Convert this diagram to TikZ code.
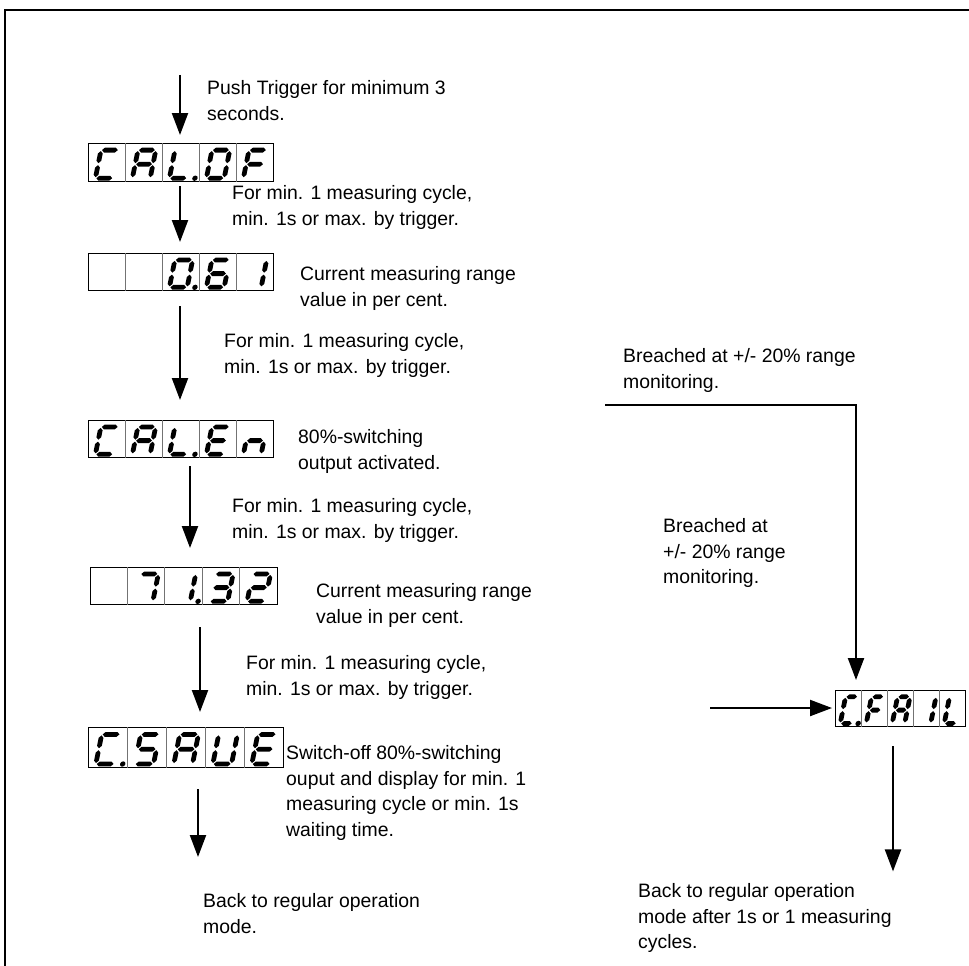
\documentclass[tikz,border=0pt]{standalone}
\usepackage{fontspec}
\setmainfont{Liberation Sans}
\usetikzlibrary{arrows.meta,calc}

% glyph metrics (set per display): \lcdW width, \lcdH height,
% \lcdT half stroke, \lcdG gap between segments, \lcdP offset of the point
\def\lcdT{2.4}
\def\lcdG{1.0}

% tapered horizontal segment at height #1
\newcommand\lcdhseg[1]{%
  \fill (\lcdG,#1) -- ({\lcdG+\lcdT},{#1+\lcdT}) -- ({\lcdW-\lcdG-\lcdT},{#1+\lcdT})
    -- ({\lcdW-\lcdG},#1) -- ({\lcdW-\lcdG-\lcdT},{#1-\lcdT}) -- ({\lcdG+\lcdT},{#1-\lcdT}) -- cycle;}
% tapered vertical segment at x=#1 from #2 up to #3
\newcommand\lcdvseg[3]{%
  \fill (#1,#2) -- ({#1+\lcdT},{#2+\lcdT}) -- ({#1+\lcdT},{#3-\lcdT})
    -- (#1,#3) -- ({#1-\lcdT},{#3-\lcdT}) -- ({#1-\lcdT},{#2+\lcdT}) -- cycle;}

% the seven segments and the decimal point
\newcommand\lcdsega{\lcdhseg{\lcdH}}
\newcommand\lcdsegg{\lcdhseg{0.5*\lcdH}}
\newcommand\lcdsegd{\lcdhseg{0}}
\newcommand\lcdsegb{\lcdvseg{\lcdW}{0.5*\lcdH+\lcdG}{\lcdH-\lcdG}}
\newcommand\lcdsegc{\lcdvseg{\lcdW}{\lcdG}{0.5*\lcdH-\lcdG}}
\newcommand\lcdsege{\lcdvseg{0}{\lcdG}{0.5*\lcdH-\lcdG}}
\newcommand\lcdsegf{\lcdvseg{0}{0.5*\lcdH+\lcdG}{\lcdH-\lcdG}}
\newcommand\lcdsegp{\fill ({\lcdW+\lcdP},0) circle (2.7);}
\newcommand\lcdsegz{}

\tikzset{
  lcdbox/.style={draw, line width=1.4pt, inner sep=0pt, anchor=north west},
  cellsep/.style={line width=0.8pt, black!55},
  arr/.style={line width=2.2pt, -{Triangle[width=16pt,length=22pt]}},
  note/.style={anchor=north west, align=left, inner sep=0pt,
               font=\fontsize{19.4}{25.5}\selectfont},
}

% #1 name, #2/#3 top-left corner, #4 cell width, #5 cell height, #6 five cells
\newcommand\lcd[6]{%
  \node[lcdbox, minimum width=5*#4pt, minimum height=#5pt] (#1) at (#2,#3) {};
  \pgfmathsetmacro\lcdW{0.48*#4}%
  \pgfmathsetmacro\lcdH{0.74*#5}%
  \pgfmathsetmacro\lcdP{0.21*#4}%
  \foreach \k in {1,...,4}
    \draw[cellsep] ($(#1.north west)+(\k*#4,0)$) -- ($(#1.south west)+(\k*#4,0)$);
  \foreach \cellsegs [count=\k from 0] in {#6} {
    \begin{scope}[shift={($(#1.south west)+(\k*#4+0.2*#4,-0.11*#5)$)},
                  yscale=-1, xslant=-0.2]
      \foreach \s in \cellsegs {\csname lcdseg\s\endcsname}
    \end{scope}}%
}

\begin{document}
\begin{tikzpicture}[x=1pt,y=-1pt]
\useasboundingbox (0,0) rectangle (969,966);

% outer frame
\draw[line width=2.4pt] (5,966) -- (5,10) -- (969,10);

% displays
\lcd{d1}{88}{143}{37}{38}{{a,d,e,f},{a,b,c,e,f,g},{d,e,f,p},{a,b,c,d,e,f},{a,e,f,g}}
\lcd{d2}{88}{253}{37}{37}{{z},{z},{a,b,c,d,e,f,p},{a,c,d,e,f,g},{b,c}}
\lcd{d3}{88}{420}{37}{37}{{a,d,e,f},{a,b,c,e,f,g},{d,e,f,p},{a,d,e,f,g},{c,e,g}}
\lcd{d4}{90}{567}{37.4}{37}{{z},{a,b,c},{b,c,p},{a,b,c,d,g},{a,b,g,e,d}}
\lcd{d5}{88}{727}{39}{40}{{a,d,e,f,p},{a,f,g,c,d},{a,b,c,e,f,g},{b,c,d,e,f},{a,d,e,f,g}}
\lcd{d6}{835}{690}{26}{36}{{a,d,e,f,p},{a,e,f,g},{a,b,c,e,f,g},{b,c},{d,e,f}}

% texts
\node[note] (t1) at (207,80.5) {Push Trigger for minimum 3\\seconds.};
\node[note] (t2) at (232,185.5) {For min. 1 measuring cycle,\\min. 1s or max. by trigger.};
\node[note] (t3) at (300,266.5) {Current measuring range\\value in per cent.};
\node[note] (t4) at (224,333.5) {For min. 1 measuring cycle,\\min. 1s or max. by trigger.};
\node[note] (t5) at (298,429.5) {80\%-switching\\output activated.};
\node[note] (t6) at (232,498.5) {For min. 1 measuring cycle,\\min. 1s or max. by trigger.};
\node[note] (t7) at (316,583.5) {Current measuring range\\value in per cent.};
\node[note] (t8) at (246,655.5) {For min. 1 measuring cycle,\\min. 1s or max. by trigger.};
\node[note] (t9) at (286,745.5) {Switch-off 80\%-switching\\ouput and display for min. 1\\measuring cycle or min. 1s\\waiting time.};
\node[note] (t10) at (203,893.5) {Back to regular operation\\mode.};
\node[note] (t11) at (623,348.5) {Breached at +/- 20\% range\\monitoring.};
\node[note] (t12) at (663,518.5) {Breached at\\+/- 20\% range\\monitoring.};
\node[note] (t13) at (638,883.5) {Back to regular operation\\mode after 1s or 1 measuring\\cycles.};

% arrows of the main sequence
\coordinate (s1) at (180,75);
\coordinate (s2) at (180,186);
\coordinate (s3) at (180,306);
\coordinate (s4) at (190,466);
\coordinate (s5) at (200,627);
\coordinate (s6) at (198,789);
\coordinate (e6) at (198,857);
\draw[arr, shorten >=8pt]  (s1) -- (s1 |- d1.north);
\draw[arr, shorten >=11pt] (s2) -- (s2 |- d2.north);
\draw[arr, shorten >=20pt] (s3) -- (s3 |- d3.north);
\draw[arr, shorten >=19pt] (s4) -- (s4 |- d4.north);
\draw[arr, shorten >=15pt] (s5) -- (s5 |- d5.north);
\draw[arr] (s6) -- (e6);

% failure branch
\coordinate (r0) at (605,405);
\coordinate (r1) at ($(d6.north west)+(21,0)$);
\draw[arr, shorten >=10pt] (r0) -| (r1);
\coordinate (h0) at (710,708);
\draw[arr, shorten >=3pt] (h0) -- (h0 -| d6.west);
\coordinate (b0) at ($(d6.south west)+(58,19)$);
\coordinate (e7) at ($(d6.south west)+(58,144)$);
\draw[arr] (b0) -- (e7);
\end{tikzpicture}
\end{document}
